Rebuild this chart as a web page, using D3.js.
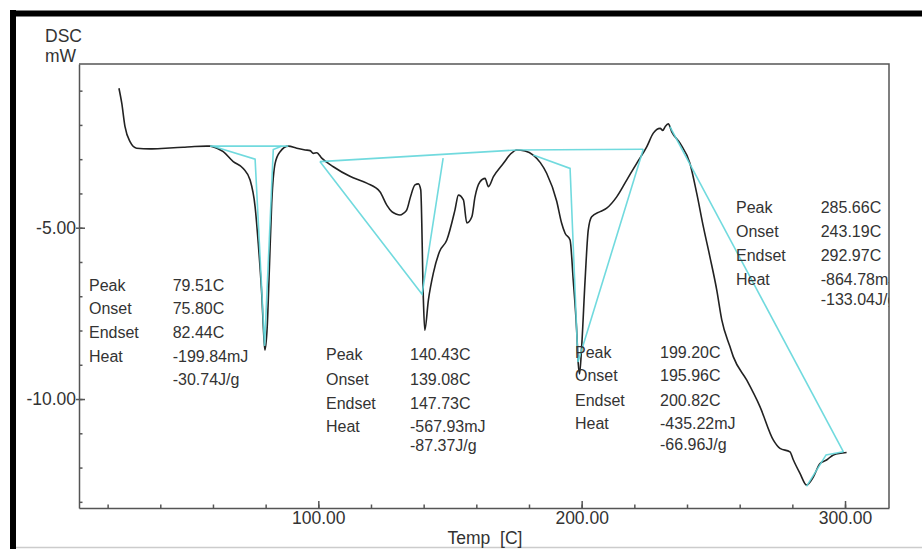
<!DOCTYPE html>
<html>
<head>
<meta charset="utf-8">
<script src="https://cdn.jsdelivr.net/npm/d3@7"></script>
<style>
  body { margin: 0; background: #fff; }
  text { font-family: "Liberation Sans", Arial, sans-serif; fill: #333; }
</style>
</head>
<body>
<script>
// DSC trace: temperature (C) and heat flow (mW)
var tempC = [24.3, 25.35, 26.6, 28.5, 31.0, 36.1, 42.0, 48.7, 53.0, 57.6, 58.9, 61.5, 63.9, 67.7, 71.5, 74.1,
  76.0, 77.2, 78.5, 79.4, 79.75, 80.6, 81.4, 82.3, 83.6, 85.5, 88.6, 91.8, 95.0, 96.9, 98.1, 99.4,
  101.3, 105.7, 112.0, 118.4, 123.4, 126.0, 127.9, 129.5, 131.0, 132.3, 133.6, 135.0, 136.7, 138.0, 138.9,
  139.9, 140.43, 141.8, 143.7, 146.0, 148.8, 151.9, 153.2, 155.1, 156.4, 158.3, 159.5, 161.4, 163.3, 164.6,
  166.5, 170.3, 173.0, 175.3, 178.5, 181.6, 184.3, 186.7, 190.5, 192.4, 193.7, 195.6, 196.8, 198.1, 198.7,
  199.2, 200.0, 201.3, 202.5, 203.8, 207.0, 209.5, 213.3, 217.1, 220.9, 224.7, 227.2, 229.8, 230.8, 231.7,
  232.9, 234.2, 237.4, 241.1, 243.7, 246.2, 248.7, 251.3, 253.2, 256.3, 257.6, 262.7, 267.7, 272.8, 275.3,
  279.1, 280.4, 282.9, 285.4, 288.0, 290.5, 293.0, 295.6, 300.6];
var dscMW = [-0.93, -1.36, -2.05, -2.49, -2.68, -2.70, -2.68, -2.65, -2.63, -2.62, -2.62, -2.68, -2.78, -3.07, -3.27, -3.61,
  -4.39, -5.46, -6.91, -8.28, -8.57, -7.89, -6.23, -4.29, -3.12, -2.78, -2.62, -2.68, -2.73, -2.75, -2.83, -2.81,
  -2.97, -3.22, -3.50, -3.70, -3.95, -4.34, -4.53, -4.60, -4.63, -4.58, -4.48, -4.10, -3.75, -3.72, -3.90,
  -7.11, -7.99, -7.11, -6.32, -5.70, -5.36, -4.48, -4.05, -4.19, -4.86, -4.68, -4.10, -3.66, -3.56, -3.80,
  -3.51, -3.12, -2.85, -2.73, -2.76, -2.88, -3.10, -3.41, -4.22, -4.87, -5.16, -5.36, -6.53, -7.99, -8.96,
  -9.27, -8.47, -6.53, -5.07, -4.68, -4.53, -4.43, -4.10, -3.61, -3.12, -2.64, -2.24, -2.10, -2.16, -2.05,
  -1.97, -2.20, -2.54, -3.12, -4.00, -4.97, -5.85, -6.82, -7.69, -8.47, -8.77, -9.45, -10.22, -11.20, -11.44,
  -11.54, -11.78, -12.17, -12.51, -12.27, -11.88, -11.78, -11.63, -11.56];

// peak analysis construction lines, [temp, mW]
var analysisLines = [
  [[58.9, -2.62], [88.6, -2.62]],
  [[60.0, -2.62], [76.0, -3.00], [79.6, -8.45], [82.9, -2.72], [86.0, -2.62]],
  [[100.6, -3.07], [175.3, -2.73], [223.4, -2.71]],
  [[100.6, -3.07], [139.4, -6.94], [147.4, -2.97]],
  [[181.6, -2.88], [195.6, -3.27], [198.6, -8.92], [223.4, -2.71]],
  [[233.5, -2.05], [299.4, -11.54]],
  [[285.4, -12.55], [292.8, -11.63], [299.4, -11.54]]
];

var peakLabels = ["Peak", "Onset", "Endset", "Heat", ""];
var peakValues = [
  ["79.51C", "75.80C", "82.44C", "-199.84mJ", "-30.74J/g"],
  ["140.43C", "139.08C", "147.73C", "-567.93mJ", "-87.37J/g"],
  ["199.20C", "195.96C", "200.82C", "-435.22mJ", "-66.96J/g"],
  ["285.66C", "243.19C", "292.97C", "-864.78mJ", "-133.04J/g"]
];

var xMajorTicks = [100, 200, 300];
var yMajorTicks = [-5, -10];

var width = 922, height = 549;
var plotL = 79, plotR = 889, plotT = 64, plotB = 508;

var svg = d3.select("body").append("svg")
  .attr("width", width)
  .attr("height", height);

svg.append("rect").attr("width", width).attr("height", height).attr("fill", "#fff");

// black screenshot frame (top + left) and faint bottom edge
svg.append("rect").attr("x", 10).attr("y", 10).attr("width", 6).attr("height", height - 10).attr("fill", "#000");
svg.append("rect").attr("x", 10).attr("y", 10.5).attr("width", width - 10).attr("height", 6).attr("fill", "#000");
svg.append("line").attr("x1", 16).attr("x2", width).attr("y1", 547.5).attr("y2", 547.5)
  .attr("stroke", "#ccc").attr("stroke-width", 1.5);

// scales
var x = d3.scaleLinear().domain([9.13, 316.7]).range([plotL, plotR]);
var y = d3.scaleLinear().domain([-0.222, -13.18]).range([plotT, plotB]);

// plot frame top + right
svg.append("path")
  .attr("d", "M" + plotL + "," + plotT + "H" + plotR + "V" + plotB)
  .attr("fill", "none").attr("stroke", "#555").attr("stroke-width", 1.5);

function styleAxis(g) {
  g.selectAll("path, line").attr("stroke", "#555").attr("stroke-width", 1.5);
  g.selectAll("text").attr("fill", "#333").style("font-size", "17.5px")
    .style("font-family", '"Liberation Sans", Arial, sans-serif');
}

// x axis
svg.append("g").attr("transform", "translate(0," + plotB + ")")
  .call(d3.axisBottom(x).tickValues(d3.range(20, 320, 20)).tickSizeInner(-3.5).tickSizeOuter(0).tickFormat(""))
  .call(styleAxis);
svg.append("g").attr("transform", "translate(0," + plotB + ")")
  .call(d3.axisBottom(x).tickValues(xMajorTicks).tickSizeInner(-7).tickSizeOuter(0).tickPadding(4)
    .tickFormat(function(d) { return d.toFixed(2); }))
  .call(function(g) { g.select(".domain").remove(); })
  .call(styleAxis);

// y axis
svg.append("g").attr("transform", "translate(" + plotL + ",0)")
  .call(d3.axisLeft(y).tickValues(d3.range(-1, -14, -1)).tickSizeInner(-3.5).tickSizeOuter(0).tickFormat(""))
  .call(styleAxis);
svg.append("g").attr("transform", "translate(" + plotL + ",0)")
  .call(d3.axisLeft(y).tickValues(yMajorTicks).tickSizeInner(-6).tickSizeOuter(0).tickFormat(""))
  .call(function(g) { g.select(".domain").remove(); })
  .call(styleAxis);
svg.append("g").attr("transform", "translate(" + plotL + ",0)")
  .call(d3.axisLeft(y).tickValues(yMajorTicks).tickSizeInner(3).tickSizeOuter(0).tickPadding(0)
    .tickFormat(function(d) { return d.toFixed(2); }))
  .call(function(g) { g.select(".domain").remove(); })
  .call(styleAxis);

// axis titles
svg.append("text").attr("x", 45).attr("y", 42).style("font-size", "17.5px").text("DSC");
svg.append("text").attr("x", 45).attr("y", 61.5).style("font-size", "17.5px").text("mW");
svg.append("text").attr("x", 485).attr("y", 544).attr("text-anchor", "middle")
  .style("font-size", "17.5px").style("white-space", "pre").text("Temp  [C]");

// clip to plot area
svg.append("clipPath").attr("id", "plot-clip")
  .append("rect").attr("x", plotL).attr("y", plotT).attr("width", plotR - plotL).attr("height", plotB - plotT);

var line = d3.line().x(function(d) { return x(d[0]); }).y(function(d) { return y(d[1]); });
var smoothLine = d3.line().curve(d3.curveMonotoneX)
  .x(function(d) { return x(d[0]); }).y(function(d) { return y(d[1]); });

// trace
svg.append("path")
  .datum(d3.zip(tempC, dscMW))
  .attr("d", smoothLine)
  .attr("fill", "none")
  .attr("stroke", "#222")
  .attr("stroke-width", 1.6)
  .attr("stroke-linejoin", "round");

// analysis lines
svg.append("g").selectAll("path")
  .data(analysisLines)
  .enter()
    .append("path")
    .attr("d", line)
    .attr("fill", "none")
    .attr("stroke", "#62d6da")
    .attr("stroke-width", 1.6)
    .attr("stroke-opacity", 0.9);

// result blocks
var blocks = [
  { x: 89, vx: 172.7, ys: [291, 314.3, 337.7, 361.5, 385] },
  { x: 326, vx: 410, ys: [360, 385, 408.7, 432, 451] },
  { x: 575, vx: 660, ys: [357.5, 381, 405.5, 429, 450] },
  { x: 736, vx: 820.7, ys: [212.7, 236.7, 260.7, 285, 305] }
];

var ann = svg.append("g").attr("clip-path", "url(#plot-clip)");
blocks.forEach(function(b, i) {
  peakLabels.forEach(function(lab, j) {
    if (lab) ann.append("text").attr("x", b.x).attr("y", b.ys[j]).style("font-size", "16px").text(lab);
    ann.append("text").attr("x", b.vx).attr("y", b.ys[j]).style("font-size", "16px").text(peakValues[i][j]);
  });
});
</script>
</body>
</html>
